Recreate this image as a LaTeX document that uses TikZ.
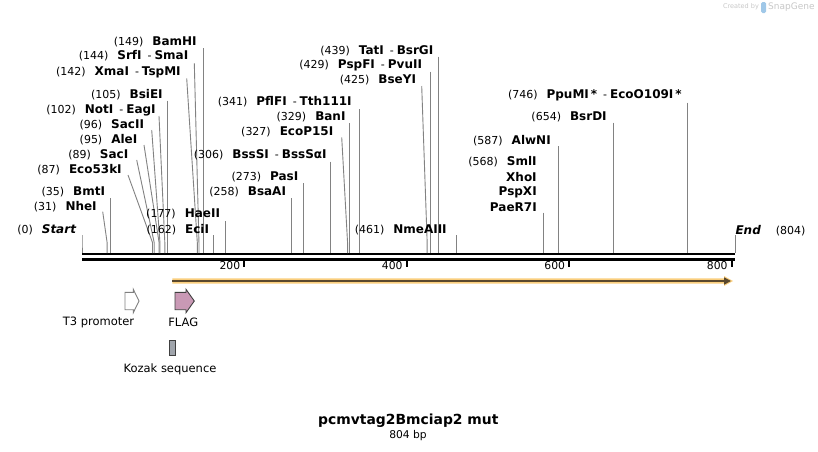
\documentclass[tikz,border=0pt]{standalone}
\usepackage{fontspec}
\setmainfont{DejaVu Sans}
\usetikzlibrary{arrows.meta}
\definecolor{siteg}{RGB}{130,130,130}
\definecolor{orf}{RGB}{250,206,125}
\definecolor{orfline}{RGB}{90,72,45}
\definecolor{flagpink}{RGB}{201,153,181}
\definecolor{kozak}{RGB}{160,165,172}
\definecolor{logogray}{RGB}{200,200,200}
\definecolor{logoblue}{RGB}{160,200,232}
\newcommand\snum[1]{{\fontsize{11}{13}\selectfont #1}}
\newcommand\sname[1]{{\fontsize{12}{13}\selectfont\bfseries #1}}
\newcommand\sdash{\hspace{6pt}\snum{-}\hspace{3pt}}
\newcommand\slab[2]{\snum{#1}\hspace{9pt}\sname{#2}}
% id, site x, text end x, label y, line start x, line top y, content
\newcommand\cutsite[7]{%
  \coordinate (b#1) at (#2,253.2);
  \coordinate (k#1) at (#2,243);
  \node[lab,anchor=east] (l#1) at (#3,#4) {#7};
  \draw[siteline] ([shift={({#5-#3},{#6-#4})}]l#1.east) -- (k#1) -- (b#1);
}
\begin{document}
\begin{tikzpicture}[x=1pt,y=-1pt,
  lab/.style={inner sep=0pt,outer sep=0pt,text=black},
  siteline/.style={draw=siteg,line width=0.9pt},
  featlab/.style={inner sep=0pt,font=\fontsize{11.5}{13}\selectfont},
  ticklab/.style={inner sep=0pt,anchor=east,font=\fontsize{10.8}{13}\selectfont},
  tickmark/.style={line width=2pt,draw=black}]
\useasboundingbox (0,0) rectangle (818,451);
\fill[white] (0,0) rectangle (818,451);

% logo
\node[inner sep=0pt,text=logogray,font=\fontsize{6.5}{8}\selectfont] (logo1) at (741,7) {Created by};
\fill[logoblue,rounded corners=1.5pt] (761,2) rectangle (766,13);
\node[inner sep=0pt,text=logogray,font=\fontsize{9}{10}\selectfont,anchor=west] (logo2) at (768,7) {SnapGene};

% backbone
\draw[line width=2pt] (82,254.2) -- (735,254.2);
\draw[line width=3pt] (82,259) -- (735,259);

% ticks
\foreach \tx/\tl in {244.4/200,406.8/400,569.3/600,731.8/800}{
  \draw[tickmark] (\tx,260) -- (\tx,267);
  \node[ticklab] at (\tx-4,266) {\tl};
}

% sites
\cutsite{0}{82}{76}{230}{82}{235}{\snum{(0)}\hspace{9pt}{\fontsize{12}{13}\selectfont\bfseries\itshape Start}}
\cutsite{31}{107.18}{96.7}{206.7}{102.7}{211.7}{\slab{(31)}{NheI}}
\cutsite{35}{110.43}{105}{192.3}{110.43}{198.3}{\slab{(35)}{BmtI}}
\cutsite{87}{152.66}{121.7}{170}{128}{175}{\slab{(87)}{Eco53kI}}
\cutsite{89}{154.28}{128.3}{154.3}{136.7}{160}{\slab{(89)}{SacI}}
\cutsite{95}{159.16}{137.3}{139.3}{144}{145}{\slab{(95)}{AleI}}
\cutsite{96}{159.97}{144}{125}{151.7}{130}{\slab{(96)}{SacII}}
\cutsite{102}{164.84}{155.7}{110}{159}{116}{\slab{(102)}{NotI}\sdash\sname{EagI}}
\cutsite{105}{167.28}{162.7}{95}{167.28}{100.7}{\slab{(105)}{BsiEI}}
\cutsite{142}{197.33}{180.7}{72.3}{186.7}{78.3}{\slab{(142)}{XmaI}\sdash\sname{TspMI}}
\cutsite{144}{198.96}{188.3}{56}{194.3}{63.3}{\slab{(144)}{SrfI}\sdash\sname{SmaI}}
\cutsite{149}{203.02}{196.7}{42.3}{203.02}{48.3}{\slab{(149)}{BamHI}}
\cutsite{162}{213.57}{209}{230}{213.57}{235.3}{\slab{(162)}{EciI}}
\cutsite{177}{225.76}{220}{214.3}{225.76}{221}{\slab{(177)}{HaeII}}
\cutsite{258}{291.54}{286}{192.3}{291.54}{198.3}{\slab{(258)}{BsaAI}}
\cutsite{273}{303.73}{298.3}{176.7}{303.73}{183.3}{\slab{(273)}{PasI}}
\cutsite{306}{330.53}{326.7}{155}{330.53}{161.7}{\slab{(306)}{BssSI}\sdash\sname{BssSαI}}
\cutsite{327}{347.58}{333.3}{131.7}{341.7}{137.3}{\slab{(327)}{EcoP15I}}
\cutsite{329}{349.21}{345.5}{117.3}{349.21}{123.3}{\slab{(329)}{BanI}}
\cutsite{341}{358.96}{351.7}{101.7}{358.96}{109}{\slab{(341)}{PflFI}\sdash\sname{Tth111I}}
\cutsite{425}{427.18}{416}{80}{421.7}{86}{\slab{(425)}{BseYI}}
\cutsite{429}{430.43}{422}{65}{430.43}{71.7}{\slab{(429)}{PspFI}\sdash\sname{PvuII}}
\cutsite{439}{438.55}{433.3}{50.7}{438.55}{56.7}{\slab{(439)}{TatI}\sdash\sname{BsrGI}}
\cutsite{461}{456.42}{446.7}{230}{456.42}{235.3}{\slab{(461)}{NmeAIII}}
\node[lab,anchor=east] (l568a) at (536.7,161.7) {\slab{(568)}{SmlI}};
\node[lab,anchor=east] (l568b) at (536.7,176.7) {\sname{XhoI}};
\node[lab,anchor=east] (l568c) at (536.7,192.3) {\sname{PspXI}};
\cutsite{568}{543.32}{536.7}{207.7}{543.32}{212.7}{\sname{PaeR7I}}
\cutsite{587}{558.75}{550.7}{140.7}{558.75}{146}{\slab{(587)}{AlwNI}}
\cutsite{654}{613.17}{606.7}{116.7}{613.17}{122.7}{\slab{(654)}{BsrDI}}
\cutsite{746}{687.89}{681.7}{95}{687.89}{102.7}{\slab{(746)}{PpuMI\,*}\sdash\sname{EcoO109I\,*}}
% End
\coordinate (b804) at (735,253.2);
\node[lab,anchor=west] (l804) at (735.5,230.7) {{\fontsize{12}{13}\selectfont\bfseries\itshape End}\hspace{15pt}\snum{(804)}};
\draw[siteline] ([shift={(-0.5,4.3)}]l804.west) -- (b804);

% ORF feature
\fill[orf] (172.3,278.3) -- (724,278.3) -- (724,276) -- (733,281) -- (724,286) -- (724,283.7) -- (172.3,283.7) -- cycle;
\draw[orfline,line width=1.6pt,-{Triangle[length=7pt,width=7pt]}] (172.3,281) -- (731,281);

% T3 promoter
\draw[draw=gray,fill=white,line width=0.9pt] (125,292.3) -- (133.3,292.3) -- (133.3,289.3) -- (139,301) -- (133.3,312.7) -- (133.3,309.7) -- (125,309.7) -- cycle;
\node[featlab] (t3) at (98.5,322.3) {T3 promoter};
% FLAG
\draw[draw=black!75,fill=flagpink,line width=0.9pt] (175,292.3) -- (186,292.3) -- (186,289.3) -- (194.3,301) -- (186,312.7) -- (186,309.7) -- (175,309.7) -- cycle;
\node[featlab] (flag) at (183.3,322.3) {FLAG};
% Kozak
\draw[draw=black!75,fill=kozak,line width=0.9pt] (169,340) rectangle (175,355);
\node[featlab] (kozak) at (170,369.3) {Kozak sequence};

% title
\node[inner sep=0pt,font=\fontsize{13.9}{16}\selectfont\bfseries] (title) at (408.3,420.7) {pcmvtag2Bmciap2 mut};
\node[inner sep=0pt,font=\fontsize{10.7}{12}\selectfont] (len) at (408,435.5) {804 bp};
\end{tikzpicture}
\end{document}
